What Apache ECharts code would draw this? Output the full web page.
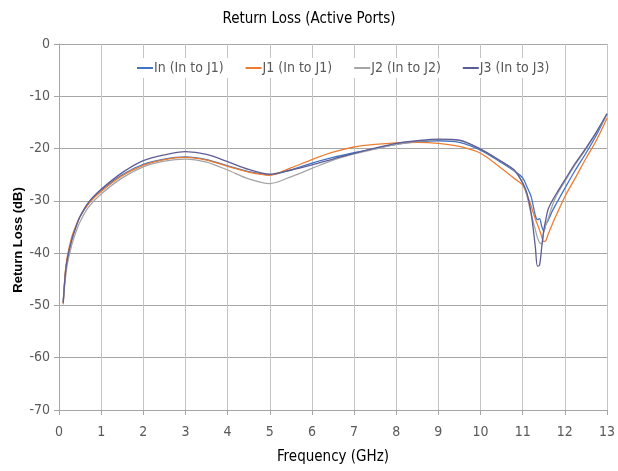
<!DOCTYPE html>
<html>
<head>
<meta charset="utf-8">
<script src="https://cdn.jsdelivr.net/npm/echarts@6/dist/echarts.min.js"></script>
<style>
  html, body { margin: 0; padding: 0; background: #fff; }
  #chart { width: 618px; height: 471px; }
</style>
</head>
<body>
<div id="chart"></div>
<script>
// frequency points (GHz), shared by all traces
var freqs = [0.1, 0.15, 0.2, 0.3, 0.4, 0.5, 0.7, 1, 1.5, 2, 2.5, 3, 3.5, 4, 4.5, 5, 5.5, 6, 6.5, 7, 7.5, 8, 8.5, 9, 9.5, 10, 10.5, 10.8, 11, 11.1, 11.2, 11.3, 11.35, 11.4, 11.45, 11.5, 11.55, 11.6, 11.7, 11.8, 12, 12.25, 12.5, 12.75, 13];

// return loss (dB)
var inJ1 = [-49.5, -44, -41, -37.5, -35, -33, -30.5, -28, -25, -23, -22, -21.6, -22.1, -23.3, -24.4, -25, -24.1, -22.8, -21.7, -20.8, -20, -19.2, -18.7, -18.5, -18.8, -20.3, -22.7, -24.3, -25.6, -27.3, -29.2, -32.8, -33.6, -33.4, -34.8, -35.8, -34.5, -33.8, -32, -30.5, -27.6, -24.1, -20.9, -17.4, -13.4];
var j1 = [-49.8, -43.5, -40.5, -37, -34.8, -33, -30.5, -28.2, -25.2, -23.2, -22.1, -21.7, -22.2, -23.4, -24.5, -25.1, -23.7, -22.1, -20.7, -19.7, -19.2, -18.9, -18.8, -19.0, -19.6, -20.9, -23.8, -25.7, -27.0, -28.8, -31.0, -33.5, -34.5, -35.6, -36.8, -37.8, -37.6, -36.5, -34.5, -32.7, -29.2, -25.6, -21.9, -18.4, -14.2];
var j2 = [-49, -45, -42, -38.5, -36, -34, -31.2, -28.7, -25.6, -23.5, -22.4, -22.0, -22.6, -24.1, -25.8, -26.7, -25.4, -23.8, -22.2, -21, -20.1, -19.2, -18.6, -18.3, -18.5, -20.1, -22.5, -24.2, -26.5, -29, -32.5, -35.5, -37, -38, -38.2, -36, -34.5, -33.5, -31, -29, -26.3, -23, -20.1, -16.9, -13.5];
var j3 = [-49.5, -44, -41, -37.5, -35, -33, -30.3, -27.8, -24.6, -22.3, -21.2, -20.6, -21.1, -22.5, -24.0, -24.9, -24.1, -23.1, -22, -20.9, -19.9, -19, -18.5, -18.2, -18.4, -20.1, -22.5, -24.1, -26.6, -28.5, -32.3, -38.8, -42.5, -42.3, -39, -35.6, -33.5, -31.7, -30, -28.6, -26, -22.8, -19.9, -16.8, -13.3];

var seriesNames = ['In (In to J1)', 'J1 (In to J1)', 'J2 (In to J2)', 'J3 (In to J3)'];
var seriesColors = ['#4472C4', '#ED7D31', '#A5A5A5', '#5E5E96'];
var seriesValues = [inJ1, j1, j2, j3];

var font = "'Liberation Sans Narrow', 'DejaVu Sans Condensed', sans-serif";

function pairs(vals) {
    return freqs.map(function (f, i) { return [f, vals[i]]; });
}

var chart = echarts.init(document.getElementById('chart'));
var option = {
    animation: false,
    backgroundColor: '#fff',
    title: {
        text: 'Return Loss (Active Ports)',
        left: 'center',
        top: 7,
        textStyle: { fontFamily: font, fontSize: 15, fontWeight: 'normal', color: '#000' }
    },
    // y axis title drawn as a rotated text, Excel puts it a bit below centre
    graphic: [{
        type: 'text',
        x: 18, y: 240,
        rotation: Math.PI / 2,
        style: {
            text: 'Return Loss (dB)',
            font: "bold 13px 'Liberation Sans', Arial, sans-serif",
            fill: '#000',
            align: 'center',
            verticalAlign: 'middle'
        }
    }],
    legend: {
        top: 58,
        left: 131,
        backgroundColor: '#fff',
        padding: [3, 6],
        itemGap: 22,
        itemWidth: 16,
        itemHeight: 2,
        icon: 'rect',
        data: seriesNames,
        textStyle: { fontFamily: font, fontSize: 14, color: '#595959', padding: [0, 0, 0, -4] }
    },
    grid: { left: 59, right: 9, top: 44, bottom: 61 },
    xAxis: {
        type: 'value',
        min: 0, max: 13, interval: 1,
        name: 'Frequency (GHz)',
        nameLocation: 'middle',
        nameGap: 40,
        nameTextStyle: { fontFamily: font, fontSize: 15, color: '#000' },
        axisLine: { onZero: false, lineStyle: { color: '#a6a6a6' } },
        axisTick: { show: true, length: 5, lineStyle: { color: '#a6a6a6' } },
        axisLabel: { fontFamily: font, fontSize: 14, color: '#595959', margin: 15 },
        splitLine: { show: true, lineStyle: { color: '#c4c4c4', width: 1 } }
    },
    yAxis: {
        type: 'value',
        min: -70, max: 0, interval: 10,
        axisLine: { show: true, lineStyle: { color: '#a6a6a6' } },
        axisTick: { show: true, length: 5, lineStyle: { color: '#a6a6a6' } },
        axisLabel: { fontFamily: font, fontSize: 14, color: '#595959', margin: 9 },
        splitLine: { show: true, lineStyle: { color: '#a6a6a6', width: 1 } }
    },
    series: seriesNames.map(function (name, i) {
        return {
            name: name,
            type: 'line',
            data: pairs(seriesValues[i]),
            showSymbol: false,
            smooth: 0.3,
            color: seriesColors[i],
            lineStyle: { width: 1.3, color: seriesColors[i] }
        };
    })
};
chart.setOption(option);
</script>
</body>
</html>
